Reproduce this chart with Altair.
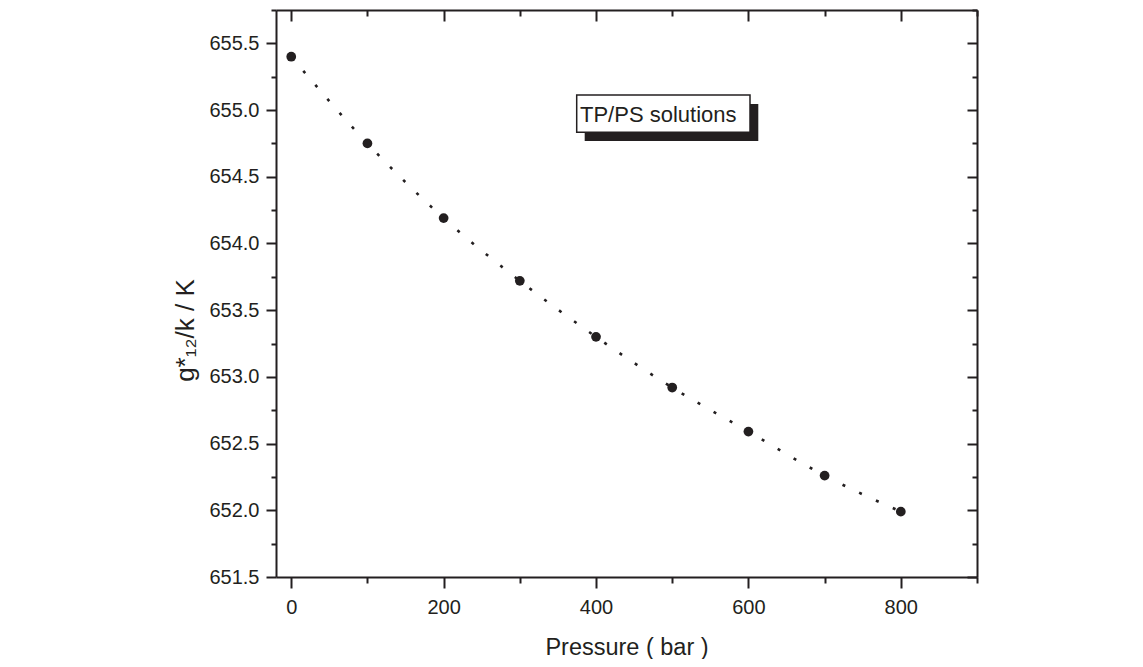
import altair as alt
import pandas as pd

# ---- data ----
pressure = [0, 100, 200, 300, 400, 500, 600, 700, 800]
g12 = [655.40, 654.75, 654.19, 653.72, 653.30, 652.92, 652.59, 652.26, 651.99]

x_major = [0, 200, 400, 600, 800]
x_minor = [100, 300, 500, 700, 900]
y_major = [651.5, 652.0, 652.5, 653.0, 653.5, 654.0, 654.5, 655.0, 655.5]
y_minor = [651.75, 652.25, 652.75, 653.25, 653.75, 654.25, 654.75, 655.25, 655.75]
annotation = ["TP/PS solutions"]

x_title = "Pressure ( bar )"
y_title = "g*\u2081\u2082/k  / K"

df = pd.DataFrame({"p": pressure, "g": g12})
ann = pd.DataFrame({"label": annotation})

INK = "#231f20"
FONT = "Liberation Sans"
W, H = 701, 567

xs = alt.Scale(domain=[-20, 900], nice=False, zero=False)
ys = alt.Scale(domain=[651.5, 655.75], nice=False, zero=False)


def ax(**kw):
    d = dict(grid=False, domainColor=INK, tickColor=INK, labelColor=INK,
             labelFont=FONT, labelFontSize=20, tickWidth=2, domainWidth=2,
             titleFont=FONT, titleColor=INK, titleFontWeight="normal",
             labelFlush=False)
    d.update(kw)
    return alt.Axis(**d)


base = alt.Chart(df)

points = base.mark_circle(size=95, color=INK, opacity=1).encode(
    x=alt.X("p:Q", scale=xs,
            axis=ax(orient="bottom", values=x_major, tickSize=11, labelPadding=9,
                    format="d", title=x_title, titleFontSize=23.5,
                    titleX=W / 2, titleY=77, titleBaseline="alphabetic",
                    titleAlign="center", titleAngle=0)),
    y=alt.Y("g:Q", scale=ys,
            axis=ax(orient="left", values=y_major, tickSize=10, labelPadding=7,
                    format=".1f", title=y_title, titleFontSize=26,
                    titleAngle=270, titleX=-83, titleY=320,
                    titleBaseline="alphabetic", titleAlign="center")),
)

line = base.mark_line(interpolate="monotone", color=INK, strokeWidth=2.6,
                      strokeDash=[3, 15.5], strokeCap="butt").encode(
    x=alt.X("p:Q", scale=xs,
            axis=ax(orient="bottom", values=x_minor, tickSize=6, labels=False,
                    domain=False, title="")),
    y=alt.Y("g:Q", scale=ys,
            axis=ax(orient="left", values=y_minor, tickSize=5, labels=False,
                    domain=False, title="")),
)

top_right_major = base.mark_point(opacity=0).encode(
    x=alt.X("p:Q", scale=xs,
            axis=ax(orient="bottom", offset=-H, values=x_major, tickSize=11,
                    labels=False, title="")),
    y=alt.Y("g:Q", scale=ys,
            axis=ax(orient="left", offset=-W, values=y_major, tickSize=10,
                    labels=False, title="")),
)

top_right_minor = base.mark_point(opacity=0).encode(
    x=alt.X("p:Q", scale=xs,
            axis=ax(orient="bottom", offset=-H, values=x_minor, tickSize=6,
                    labels=False, domain=False, title="")),
    y=alt.Y("g:Q", scale=ys,
            axis=ax(orient="left", offset=-W, values=y_minor, tickSize=5,
                    labels=False, domain=False, title="")),
)

abase = alt.Chart(ann)
shadow = abase.mark_rect(fill=INK).encode(
    x=alt.value(308.7), x2=alt.value(482.3), y=alt.value(94), y2=alt.value(131))
box = abase.mark_rect(fill="white", stroke=INK, strokeWidth=1.5).encode(
    x=alt.value(300.7), x2=alt.value(474), y=alt.value(85), y2=alt.value(122.3))
label = abase.mark_text(align="left", baseline="alphabetic", fontSize=22,
                        font=FONT, color=INK).encode(
    x=alt.value(304), y=alt.value(111.7), text="label:N")

chart = alt.layer(
    line, points, top_right_major, top_right_minor, shadow, box, label
).resolve_axis(
    x="independent", y="independent"
).properties(
    width=W, height=H,
    autosize=alt.AutoSizeParams(type="none"),
    padding={"left": 268, "top": 2, "right": 150, "bottom": 82},
).configure_view(stroke="transparent")

chart.save("out.html", embed_options={"renderer": "svg", "actions": False})
